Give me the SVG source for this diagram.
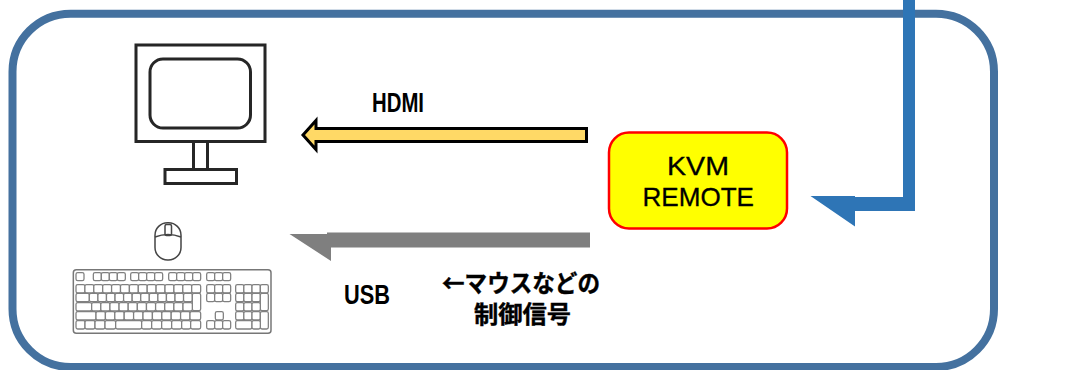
<svg xmlns="http://www.w3.org/2000/svg" width="1067" height="370" viewBox="0 0 1067 370">
<style>
.t{font-family:"Liberation Sans",Arial,sans-serif;fill:#000}
.b{font-weight:bold;font-size:28px}
.r{font-size:26.500px;stroke:#000;stroke-width:.3}
.j{font-family:"Noto Sans CJK JP",sans-serif;font-weight:bold;font-size:24px;fill:#000;stroke:#000;stroke-width:.4}
.m{fill:none;stroke:#262626;stroke-width:3}
.k{fill:#fff;stroke:#808080;stroke-width:3.8}
</style>
<defs><filter id="soft" x="-5%" y="-5%" width="110%" height="110%"><feGaussianBlur stdDeviation="0.6"/></filter></defs>
<rect id="frame" x="12.500" y="13.700" width="981.500" height="353.300" rx="58" ry="58" fill="#fff" stroke="#44719f" stroke-width="8"/>
<g id="monitor" filter="url(#soft)">
<rect class="m" x="136" y="45" width="129" height="96.500"/>
<rect class="m" x="150" y="59" width="100.500" height="69" rx="13"/>
<path class="m" d="M193.500 142V169M207.500 142V169"/>
<rect class="m" x="165" y="169.500" width="71.500" height="14"/>
</g>
<g id="mouse" filter="url(#soft)" fill="none" stroke="#444" stroke-width="1.500">
<rect x="155" y="222.700" width="26" height="37.300" rx="12.500" fill="#fff"/>
<path d="M155 237Q168 232 181 237"/>
<rect x="165" y="224.500" width="6.500" height="11" rx="1.500"/>
</g>
<g id="keyboard" filter="url(#soft)" transform="translate(60 210) scale(.33333)">
<rect x="40" y="179" width="593" height="191" rx="9" fill="#fff" stroke="#777" stroke-width="4.500"/>
<rect class="k" x="48" y="188" width="24" height="24" rx="5"/>
<rect class="k" x="100" y="188" width="24" height="24" rx="5"/><rect class="k" x="124" y="188" width="24" height="24" rx="5"/><rect class="k" x="148" y="188" width="24" height="24" rx="5"/><rect class="k" x="172" y="188" width="24" height="24" rx="5"/>
<rect class="k" x="212" y="188" width="24" height="24" rx="5"/><rect class="k" x="236" y="188" width="24" height="24" rx="5"/><rect class="k" x="260" y="188" width="24" height="24" rx="5"/><rect class="k" x="284" y="188" width="24" height="24" rx="5"/>
<rect class="k" x="326" y="188" width="24" height="24" rx="5"/><rect class="k" x="350" y="188" width="24" height="24" rx="5"/><rect class="k" x="374" y="188" width="24" height="24" rx="5"/><rect class="k" x="398" y="188" width="24" height="24" rx="5"/>
<rect class="k" x="440" y="188" width="24" height="24" rx="5"/><rect class="k" x="464" y="188" width="24" height="24" rx="5"/><rect class="k" x="488" y="188" width="24" height="24" rx="5"/>
<rect class="k" x="48" y="224" width="26.700" height="25" rx="5"/><rect class="k" x="74.700" y="224" width="26.700" height="25" rx="5"/><rect class="k" x="101.400" y="224" width="26.700" height="25" rx="5"/><rect class="k" x="128.100" y="224" width="26.700" height="25" rx="5"/><rect class="k" x="154.800" y="224" width="26.700" height="25" rx="5"/><rect class="k" x="181.500" y="224" width="26.700" height="25" rx="5"/><rect class="k" x="208.200" y="224" width="26.700" height="25" rx="5"/><rect class="k" x="234.900" y="224" width="26.700" height="25" rx="5"/><rect class="k" x="261.600" y="224" width="26.700" height="25" rx="5"/><rect class="k" x="288.300" y="224" width="26.700" height="25" rx="5"/><rect class="k" x="315" y="224" width="26.700" height="25" rx="5"/><rect class="k" x="341.700" y="224" width="26.700" height="25" rx="5"/><rect class="k" x="368.400" y="224" width="26.700" height="25" rx="5"/><rect class="k" x="395.100" y="224" width="26.900" height="25" rx="5"/>
<rect class="k" x="48" y="250" width="40" height="25" rx="5"/><rect class="k" x="88" y="250" width="25.700" height="25" rx="5"/><rect class="k" x="113.700" y="250" width="25.700" height="25" rx="5"/><rect class="k" x="139.400" y="250" width="25.700" height="25" rx="5"/><rect class="k" x="165.100" y="250" width="25.700" height="25" rx="5"/><rect class="k" x="190.800" y="250" width="25.700" height="25" rx="5"/><rect class="k" x="216.500" y="250" width="25.700" height="25" rx="5"/><rect class="k" x="242.200" y="250" width="25.700" height="25" rx="5"/><rect class="k" x="267.900" y="250" width="25.700" height="25" rx="5"/><rect class="k" x="293.600" y="250" width="25.700" height="25" rx="5"/><rect class="k" x="319.300" y="250" width="25.700" height="25" rx="5"/><rect class="k" x="345" y="250" width="25.700" height="25" rx="5"/><rect class="k" x="370.700" y="250" width="26.300" height="25" rx="5"/><rect class="k" x="397" y="250" width="25" height="52" rx="5"/>
<rect class="k" x="48" y="278" width="47" height="25" rx="5"/><rect class="k" x="95" y="278" width="27.400" height="25" rx="5"/><rect class="k" x="122.400" y="278" width="27.400" height="25" rx="5"/><rect class="k" x="149.800" y="278" width="27.400" height="25" rx="5"/><rect class="k" x="177.200" y="278" width="27.400" height="25" rx="5"/><rect class="k" x="204.600" y="278" width="27.400" height="25" rx="5"/><rect class="k" x="232" y="278" width="27.400" height="25" rx="5"/><rect class="k" x="259.400" y="278" width="27.400" height="25" rx="5"/><rect class="k" x="286.800" y="278" width="27.400" height="25" rx="5"/><rect class="k" x="314.200" y="278" width="27.400" height="25" rx="5"/><rect class="k" x="341.600" y="278" width="27.400" height="25" rx="5"/><rect class="k" x="369" y="278" width="28" height="25" rx="5"/>
<rect class="k" x="48" y="305" width="60" height="25" rx="5"/><rect class="k" x="108" y="305" width="28.200" height="25" rx="5"/><rect class="k" x="136.200" y="305" width="28.200" height="25" rx="5"/><rect class="k" x="164.400" y="305" width="28.200" height="25" rx="5"/><rect class="k" x="192.600" y="305" width="28.200" height="25" rx="5"/><rect class="k" x="220.800" y="305" width="28.200" height="25" rx="5"/><rect class="k" x="249" y="305" width="28.200" height="25" rx="5"/><rect class="k" x="277.200" y="305" width="28.200" height="25" rx="5"/><rect class="k" x="305.400" y="305" width="28.200" height="25" rx="5"/><rect class="k" x="333.600" y="305" width="28.200" height="25" rx="5"/><rect class="k" x="361.800" y="305" width="28.200" height="25" rx="5"/><rect class="k" x="390" y="305" width="32" height="25" rx="5"/>
<rect class="k" x="48" y="332" width="27" height="25" rx="5"/><rect class="k" x="75" y="332" width="30" height="25" rx="5"/><rect class="k" x="105" y="332" width="30" height="25" rx="5"/><rect class="k" x="135" y="332" width="32" height="25" rx="5"/><rect class="k" x="167" y="332" width="78" height="25" rx="5"/><rect class="k" x="245" y="332" width="30" height="25" rx="5"/><rect class="k" x="275" y="332" width="30" height="25" rx="5"/><rect class="k" x="305" y="332" width="30" height="25" rx="5"/><rect class="k" x="335" y="332" width="30" height="25" rx="5"/><rect class="k" x="365" y="332" width="27" height="25" rx="5"/><rect class="k" x="392" y="332" width="30" height="25" rx="5"/>
<rect class="k" x="440" y="224" width="24" height="25" rx="5"/><rect class="k" x="464" y="224" width="24" height="25" rx="5"/><rect class="k" x="488" y="224" width="24" height="25" rx="5"/>
<rect class="k" x="440" y="250" width="24" height="25" rx="5"/><rect class="k" x="464" y="250" width="24" height="25" rx="5"/><rect class="k" x="488" y="250" width="24" height="25" rx="5"/>
<rect class="k" x="466" y="305" width="24" height="25" rx="5"/>
<rect class="k" x="440" y="332" width="24" height="25" rx="5"/><rect class="k" x="464" y="332" width="24" height="25" rx="5"/><rect class="k" x="488" y="332" width="24" height="25" rx="5"/>
<rect class="k" x="527" y="224" width="24.500" height="25" rx="5"/><rect class="k" x="551.500" y="224" width="24.500" height="25" rx="5"/><rect class="k" x="576" y="224" width="25" height="25" rx="5"/><rect class="k" x="601" y="224" width="24" height="25" rx="5"/>
<rect class="k" x="527" y="250" width="24.500" height="25" rx="5"/><rect class="k" x="551.500" y="250" width="24.500" height="25" rx="5"/><rect class="k" x="576" y="250" width="25" height="25" rx="5"/><rect class="k" x="601" y="250" width="24" height="52" rx="5"/>
<rect class="k" x="527" y="278" width="24.500" height="25" rx="5"/><rect class="k" x="551.500" y="278" width="24.500" height="25" rx="5"/><rect class="k" x="576" y="278" width="25" height="25" rx="5"/>
<rect class="k" x="527" y="305" width="24.500" height="25" rx="5"/><rect class="k" x="551.500" y="305" width="24.500" height="25" rx="5"/><rect class="k" x="576" y="305" width="25" height="25" rx="5"/><rect class="k" x="601" y="305" width="24" height="52" rx="5"/>
<rect class="k" x="527" y="332" width="49" height="25" rx="5"/><rect class="k" x="576" y="332" width="25" height="25" rx="5"/>
</g>
<g id="kvm-remote">
<rect x="609" y="132.500" width="178" height="96" rx="20" fill="#ff0" stroke="#f00" stroke-width="2.500"/>
<text class="t r" x="667" y="175" textLength="62" lengthAdjust="spacingAndGlyphs">KVM</text>
<text class="t r" x="642.500" y="206" textLength="111.500" lengthAdjust="spacingAndGlyphs">REMOTE</text>
</g>
<g id="connectors">
<polygon id="hdmi" points="586.500,128.500 316,128.500 316,120.500 303,135 316,149.500 316,141.500 586.500,141.500" fill="#ffd966" stroke="#000" stroke-width="3"/>
<polygon id="usb" points="590,232.500 327,232.500 327,234 289.500,234 331,261 331,247.500 590,247.500" fill="#7f7f7f"/>
<polygon id="network" points="903,0 915,0 915,211 855,211 855,226.500 810.500,196 855,196 855,197 903,197" fill="#2e75b6"/>
</g>
<g id="labels">
<text class="t b" x="372" y="112" textLength="52" lengthAdjust="spacingAndGlyphs">HDMI</text>
<text class="t b" x="344" y="304" textLength="46" lengthAdjust="spacingAndGlyphs">USB</text>
<text class="j" x="442" y="292" textLength="158" lengthAdjust="spacingAndGlyphs">←マウスなどの</text>
<text class="j" x="474" y="323" textLength="97" lengthAdjust="spacingAndGlyphs">制御信号</text>
</g>
</svg>
